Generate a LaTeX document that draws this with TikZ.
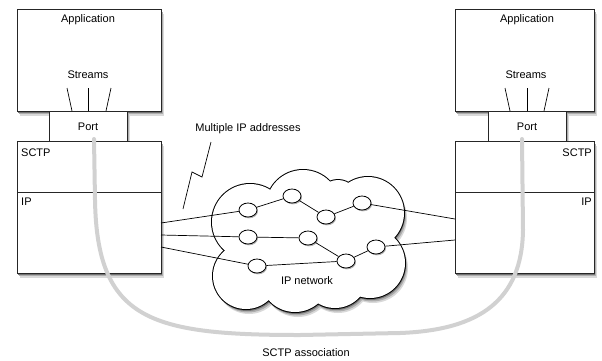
\documentclass[tikz,border=0pt]{standalone}
\usepackage{fontspec}
\setmainfont{Liberation Sans}
\usetikzlibrary{shapes.geometric}
\begin{document}
\begin{tikzpicture}[x=1pt,y=-1pt,
  font=\fontsize{11}{13}\selectfont,
  box/.style={draw=black!85, line width=0.8pt, fill=white, inner sep=0pt},
  lbl/.style={inner sep=0pt},
  wire/.style={draw=black, line width=0.7pt},
  hop/.style={ellipse, draw, line width=0.8pt, fill=white, minimum width=18pt,
    minimum height=14pt, inner sep=0pt},
  assoc/.style={draw=black!18, line width=4pt, line cap=round}
]
\useasboundingbox (0,0) rectangle (602,360);

% ---------- box shadows ----------
\foreach \xa/\ya/\xb/\yb in {17/9/161/111, 17/141/161/273, 49/111/127/141,
                             455/9/594/111, 455/141/594/273, 488/111/566/141}
{
  \fill[black!15] (\xa+3,\ya+4.5) rectangle (\xb+3,\yb+4.5);
  \fill[black!32] (\xa+2,\ya+3) rectangle (\xb+2,\yb+3);
  \fill[black!55] (\xa+1,\ya+1.5) rectangle (\xb+1,\yb+1.5);
}

% ---------- left stack ----------
\node[box, minimum width=144pt, minimum height=102pt] (appL) at (89,60) {};
\node[box, minimum width=144pt, minimum height=132pt] (stackL) at (89,207) {};
\node[box, minimum width=78pt, minimum height=30pt] (portL) at (88,126) {};
\draw[draw=black!85, line width=0.8pt] (17,192) -- (161,192);
\node[lbl] (appLt) at (88,20) {Application};
\node[lbl] (strLt) at (88,75) {Streams};
\node[lbl] (portLt) at (88,127) {Port};
\node[lbl, anchor=west] (sctpLt) at (21,153) {SCTP};
\node[lbl, anchor=west] (ipLt) at (21,202) {IP};
\draw[wire] (72,111) -- (67,88);
\draw[wire] (88,111) -- (88,88);
\draw[wire] (106,111) -- (111,88);

% ---------- right stack ----------
\node[box, minimum width=139pt, minimum height=102pt] (appR) at (524.5,60) {};
\node[box, minimum width=139pt, minimum height=132pt] (stackR) at (524.5,207) {};
\node[box, minimum width=78pt, minimum height=30pt] (portR) at (527,126) {};
\draw[draw=black!85, line width=0.8pt] (455,192) -- (594,192);
\node[lbl] (appRt) at (527,20) {Application};
\node[lbl] (strRt) at (526,75) {Streams};
\node[lbl] (portRt) at (527,127) {Port};
\node[lbl, anchor=east] (sctpRt) at (592,153) {SCTP};
\node[lbl, anchor=east] (ipRt) at (592,202) {IP};
\draw[wire] (510,111) -- (505,88);
\draw[wire] (527,111) -- (527,88);
\draw[wire] (544,111) -- (549,88);

% ---------- cloud ----------
\foreach \cx/\cy/\r in {250/222/38, 246/276/33, 303/207/37, 368/213/36,
                        370/263/35, 295/277/35, 335/275/33, 338/200/20}
  {\fill[black!15] (\cx+3,\cy+5) circle[radius=\r pt];}
\foreach \cx/\cy/\r in {250/222/38, 246/276/33, 303/207/37, 368/213/36,
                        370/263/35, 295/277/35, 335/275/33, 338/200/20}
  {\fill[black!32] (\cx+2,\cy+3.5) circle[radius=\r pt];}
\foreach \cx/\cy/\r in {250/222/38, 246/276/33, 303/207/37, 368/213/36,
                        370/263/35, 295/277/35, 335/275/33, 338/200/20}
  {\fill[black!55] (\cx+1,\cy+2) circle[radius=\r pt];}
\foreach \cx/\cy/\r in {250/222/38, 246/276/33, 303/207/37, 368/213/36,
                        370/263/35, 295/277/35, 335/275/33, 338/200/20}
  {\draw[black, line width=2pt] (\cx,\cy) circle[radius=\r pt];}
\foreach \cx/\cy/\r in {250/222/38, 246/276/33, 303/207/37, 368/213/36,
                        370/263/35, 295/277/35, 335/275/33, 338/200/20}
  {\fill[white] (\cx,\cy) circle[radius=\r pt];}
\fill[white] (308,240) circle[x radius=80pt, y radius=40pt];
\node[lbl] (ipnet) at (307,281) {IP network};

% ---------- network hops ----------
\foreach \hx/\hy in {248/210, 292/196, 326/217, 362/203, 248/237,
                     308/238, 346/261, 376/247, 257/266}
  {\fill[black!30] (\hx+1,\hy+1.3) circle[x radius=9pt, y radius=7pt];}
\node[hop] (n1) at (248,210) {};
\node[hop] (n2) at (292,196) {};
\node[hop] (n3) at (326,217) {};
\node[hop] (n4) at (362,203) {};
\node[hop] (n5) at (248,237) {};
\node[hop] (n6) at (308,238) {};
\node[hop] (n7) at (346,261) {};
\node[hop] (n8) at (376,247) {};
\node[hop] (n9) at (257,266) {};

\coordinate (l1) at (161,223);
\coordinate (l2) at (161,235);
\coordinate (l3) at (161,247);
\coordinate (r1) at (455,219);
\coordinate (r2) at (455,240);

\draw[wire] (l1) -- (n1);
\draw[wire] (n1) -- (n2);
\draw[wire] (n2) -- (n3);
\draw[wire] (n3) -- (n4);
\draw[wire] (n4) -- (r1);
\draw[wire] (l2) -- (n5);
\draw[wire] (n5) -- (n6);
\draw[wire] (n6) -- (n7);
\draw[wire] (n7) -- (n8);
\draw[wire] (n8) -- (r2);
\draw[wire] (l3) -- (n9);
\draw[wire] (n9) -- (n7);

% ---------- multiple IP addresses ----------
\node[lbl] (multi) at (248,129) {Multiple IP addresses};
\coordinate (z0) at (211,142);
\coordinate (z3) at (183,209);
\draw[wire] (z0) -- (202,177) -- (192,172) -- (z3);

% ---------- SCTP association ----------
\coordinate (aL) at (94,139);
\coordinate (aR) at (522,139);
\draw[assoc] (aL) -- (95,200) .. controls (97,320) and (150,335) .. (300,335)
  -- (400,333) .. controls (480,330) and (522,300) .. (523,230) -- (aR);
\node[lbl] (assoct) at (306,353) {SCTP association};
\end{tikzpicture}
\end{document}
